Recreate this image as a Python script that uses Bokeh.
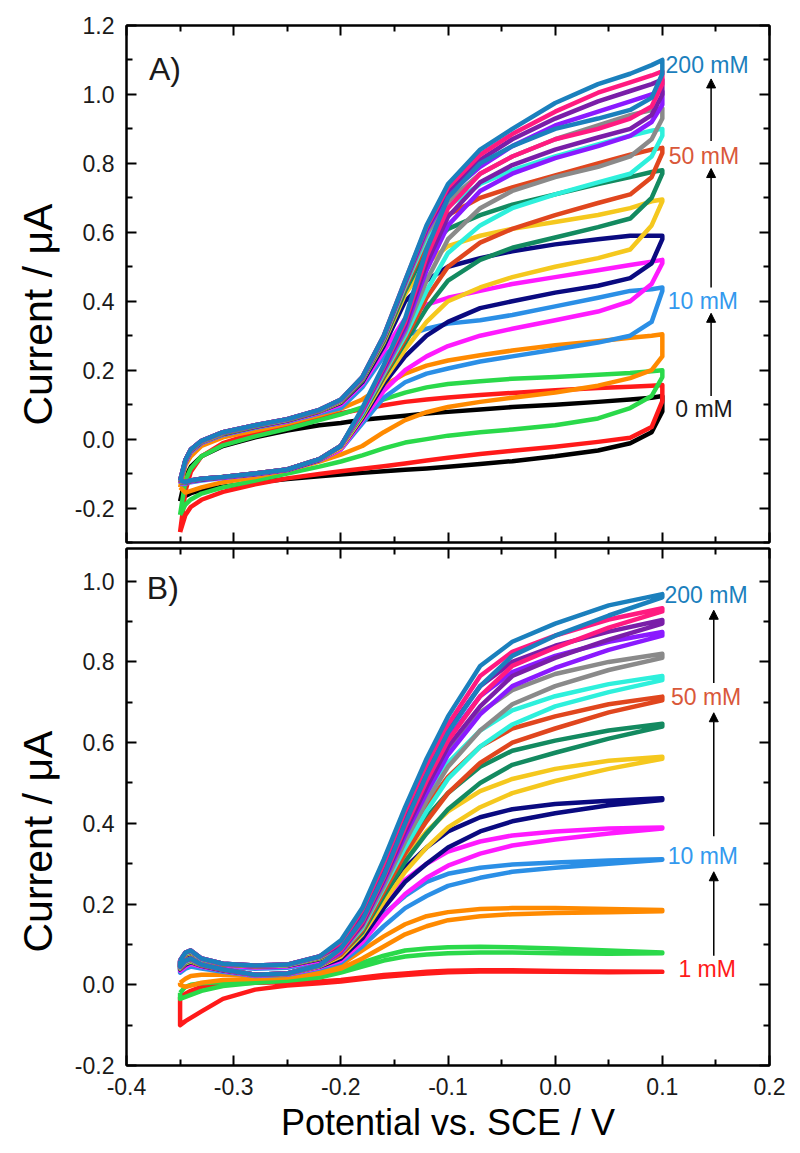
from bokeh.plotting import figure
from bokeh.models import (LinearAxis, FixedTicker, PrintfTickFormatter, Range1d, Label, Arrow,
                          NormalHead, CustomLabelingPolicy, Title)
from bokeh.layouts import column
from bokeh.embed import file_html
from bokeh.resources import INLINE

FONT = "Liberation Sans"

# ---------------- data ----------------
x_major = [-0.4, -0.3, -0.2, -0.1, 0.0, 0.1, 0.2]
x_minor = [-0.35, -0.25, -0.15, -0.05, 0.05, 0.15]
yA_major = [-0.2, 0.0, 0.2, 0.4, 0.6, 0.8, 1.0, 1.2]
yA_minor = [-0.3, -0.1, 0.1, 0.3, 0.5, 0.7, 0.9, 1.1]
yB_major = [-0.2, 0.0, 0.2, 0.4, 0.6, 0.8, 1.0]
yB_minor = [-0.1, 0.1, 0.3, 0.5, 0.7, 0.9]

# potential grid (V vs SCE), panel A
EA = [-0.35, -0.345, -0.34, -0.33, -0.31, -0.28, -0.25, -0.22, -0.20, -0.18, -0.16,
      -0.14, -0.12, -0.10, -0.07, -0.04, 0.0, 0.04, 0.07, 0.09, 0.10]

A_blk_up = [-0.18, -0.11, -0.08, -0.05, -0.02, 0.005, 0.025, 0.04, 0.047, 0.056, 0.062, 0.068, 0.074, 0.079, 0.086, 0.093, 0.10, 0.108, 0.115, 0.12, 0.125]
A_blk_dn = [-0.18, -0.165, -0.157, -0.148, -0.138, -0.126, -0.116, -0.108, -0.103, -0.098, -0.093, -0.089, -0.085, -0.08, -0.072, -0.064, -0.05, -0.033, -0.012, 0.02, 0.08]
A_red_up = [-0.27, -0.15, -0.095, -0.05, -0.012, 0.018, 0.04, 0.062, 0.075, 0.087, 0.098, 0.108, 0.115, 0.121, 0.128, 0.134, 0.142, 0.148, 0.152, 0.155, 0.157]
A_red_dn = [-0.27, -0.22, -0.197, -0.176, -0.153, -0.131, -0.114, -0.101, -0.093, -0.086, -0.079, -0.071, -0.062, -0.054, -0.043, -0.034, -0.022, -0.008, 0.004, 0.035, 0.11]
A_grn_up = [-0.22, -0.12, -0.085, -0.05, -0.018, 0.008, 0.03, 0.055, 0.072, 0.092, 0.115, 0.135, 0.15, 0.16, 0.168, 0.175, 0.18, 0.187, 0.192, 0.197, 0.20]
A_grn_dn = [-0.22, -0.19, -0.175, -0.158, -0.14, -0.12, -0.1, -0.08, -0.065, -0.047, -0.027, -0.01, 0.0, 0.01, 0.02, 0.028, 0.04, 0.06, 0.09, 0.125, 0.18]
A_org_up = [-0.14, -0.075, -0.05, -0.02, 0.005, 0.025, 0.045, 0.07, 0.088, 0.115, 0.155, 0.19, 0.213, 0.228, 0.243, 0.257, 0.272, 0.284, 0.294, 0.30, 0.304]
A_org_dn = [-0.14, -0.155, -0.15, -0.14, -0.125, -0.11, -0.09, -0.065, -0.045, -0.02, 0.02, 0.055, 0.078, 0.093, 0.108, 0.12, 0.135, 0.155, 0.177, 0.20, 0.24]
A_ltb_up = [-0.13, -0.068, -0.038, -0.012, 0.012, 0.033, 0.05, 0.075, 0.09, 0.15, 0.24, 0.30, 0.32, 0.335, 0.345, 0.36, 0.385, 0.41, 0.43, 0.435, 0.44]
A_ltb_dn = [-0.13, -0.13, -0.125, -0.12, -0.113, -0.103, -0.09, -0.062, -0.03, 0.045, 0.12, 0.165, 0.19, 0.205, 0.225, 0.24, 0.26, 0.28, 0.30, 0.34, 0.43]
A_mag_up = [-0.128, -0.066, -0.036, -0.01, 0.014, 0.035, 0.052, 0.078, 0.10, 0.16, 0.255, 0.35, 0.39, 0.41, 0.43, 0.45, 0.47, 0.49, 0.505, 0.515, 0.52]
A_mag_dn = [-0.128, -0.128, -0.123, -0.118, -0.112, -0.102, -0.09, -0.061, -0.03, 0.055, 0.14, 0.20, 0.24, 0.27, 0.30, 0.32, 0.345, 0.37, 0.40, 0.45, 0.51]
A_nav_up = [-0.126, -0.064, -0.034, -0.009, 0.015, 0.036, 0.054, 0.08, 0.105, 0.165, 0.27, 0.40, 0.46, 0.50, 0.525, 0.545, 0.565, 0.58, 0.59, 0.59, 0.59]
A_nav_dn = [-0.126, -0.127, -0.122, -0.117, -0.111, -0.101, -0.089, -0.06, -0.025, 0.06, 0.16, 0.24, 0.30, 0.34, 0.38, 0.40, 0.425, 0.445, 0.467, 0.51, 0.58]
A_yel_up = [-0.125, -0.063, -0.033, -0.008, 0.016, 0.037, 0.055, 0.081, 0.108, 0.17, 0.28, 0.42, 0.51, 0.56, 0.59, 0.61, 0.63, 0.65, 0.67, 0.69, 0.695]
A_yel_dn = [-0.125, -0.126, -0.121, -0.116, -0.11, -0.1, -0.088, -0.059, -0.025, 0.065, 0.17, 0.26, 0.34, 0.40, 0.44, 0.47, 0.50, 0.525, 0.55, 0.62, 0.69]
A_gr2_up = [-0.124, -0.062, -0.032, -0.007, 0.017, 0.038, 0.056, 0.082, 0.11, 0.172, 0.285, 0.43, 0.55, 0.61, 0.65, 0.68, 0.71, 0.74, 0.76, 0.775, 0.78]
A_gr2_dn = [-0.124, -0.126, -0.121, -0.116, -0.11, -0.1, -0.088, -0.058, -0.02, 0.07, 0.18, 0.28, 0.38, 0.46, 0.52, 0.555, 0.585, 0.615, 0.64, 0.70, 0.77]
A_ore_up = [-0.123, -0.061, -0.031, -0.006, 0.018, 0.039, 0.057, 0.083, 0.111, 0.174, 0.29, 0.44, 0.57, 0.65, 0.70, 0.73, 0.765, 0.80, 0.825, 0.84, 0.845]
A_ore_dn = [-0.123, -0.125, -0.12, -0.115, -0.11, -0.1, -0.088, -0.058, -0.02, 0.075, 0.185, 0.29, 0.41, 0.50, 0.57, 0.61, 0.65, 0.685, 0.71, 0.76, 0.83]
A_cyn_up = [-0.122, -0.061, -0.031, -0.006, 0.019, 0.039, 0.057, 0.084, 0.112, 0.176, 0.293, 0.445, 0.585, 0.675, 0.74, 0.78, 0.82, 0.855, 0.88, 0.895, 0.90]
A_cyn_dn = [-0.122, -0.125, -0.12, -0.115, -0.11, -0.1, -0.088, -0.058, -0.02, 0.075, 0.19, 0.30, 0.43, 0.54, 0.62, 0.67, 0.71, 0.745, 0.77, 0.82, 0.88]
A_gry_up = [-0.121, -0.06, -0.03, -0.005, 0.02, 0.04, 0.058, 0.084, 0.113, 0.177, 0.295, 0.45, 0.595, 0.69, 0.77, 0.82, 0.87, 0.91, 0.94, 0.955, 0.96]
A_gry_dn = [-0.121, -0.125, -0.12, -0.115, -0.11, -0.1, -0.088, -0.058, -0.02, 0.08, 0.195, 0.31, 0.46, 0.58, 0.67, 0.72, 0.76, 0.79, 0.82, 0.87, 0.93]
A_vio_up = [-0.12, -0.06, -0.03, -0.005, 0.02, 0.04, 0.058, 0.085, 0.114, 0.178, 0.297, 0.455, 0.605, 0.71, 0.79, 0.85, 0.91, 0.95, 0.98, 1.0, 1.009]
A_vio_dn = [-0.12, -0.125, -0.12, -0.115, -0.11, -0.1, -0.088, -0.058, -0.02, 0.08, 0.20, 0.32, 0.49, 0.62, 0.72, 0.77, 0.815, 0.85, 0.88, 0.92, 0.97]
A_pur_up = [-0.12, -0.06, -0.03, -0.005, 0.02, 0.04, 0.058, 0.085, 0.114, 0.179, 0.298, 0.455, 0.61, 0.72, 0.81, 0.87, 0.93, 0.98, 1.01, 1.03, 1.043]
A_pur_dn = [-0.12, -0.125, -0.12, -0.115, -0.11, -0.1, -0.088, -0.058, -0.02, 0.085, 0.205, 0.33, 0.51, 0.645, 0.745, 0.795, 0.84, 0.875, 0.90, 0.94, 1.00]
A_pnk_up = [-0.12, -0.06, -0.03, -0.005, 0.02, 0.04, 0.058, 0.085, 0.115, 0.18, 0.30, 0.46, 0.615, 0.73, 0.825, 0.885, 0.95, 1.005, 1.035, 1.055, 1.067]
A_pnk_dn = [-0.12, -0.125, -0.12, -0.115, -0.11, -0.1, -0.088, -0.058, -0.02, 0.085, 0.21, 0.34, 0.53, 0.67, 0.77, 0.82, 0.87, 0.90, 0.93, 0.965, 1.03]
A_blu_up = [-0.12, -0.06, -0.03, -0.005, 0.02, 0.04, 0.058, 0.085, 0.115, 0.18, 0.30, 0.46, 0.62, 0.74, 0.84, 0.90, 0.975, 1.03, 1.06, 1.085, 1.10]
A_blu_dn = [-0.12, -0.125, -0.12, -0.115, -0.11, -0.1, -0.088, -0.058, -0.02, 0.09, 0.215, 0.35, 0.55, 0.70, 0.80, 0.85, 0.90, 0.93, 0.955, 0.99, 1.06]

# potential grid, panel B
EB = [-0.35, -0.345, -0.34, -0.33, -0.31, -0.28, -0.25, -0.22, -0.20, -0.18,
      -0.16, -0.14, -0.12, -0.10, -0.07, -0.04, 0.0, 0.05, 0.10]

B_red_up = [-0.03, -0.022, -0.015, -0.005, 0.002, 0.005, 0.006, 0.008, 0.012, 0.018, 0.024, 0.028, 0.032, 0.035, 0.036, 0.036, 0.034, 0.033, 0.032]
B_red_dn = [-0.10, -0.09, -0.082, -0.066, -0.035, -0.012, -0.002, 0.004, 0.008, 0.014, 0.02, 0.024, 0.028, 0.031, 0.033, 0.033, 0.032, 0.031, 0.032]
B_grn_up = [-0.02, -0.005, 0.0, 0.004, 0.007, 0.008, 0.012, 0.022, 0.035, 0.055, 0.072, 0.085, 0.09, 0.093, 0.094, 0.093, 0.09, 0.085, 0.08]
B_grn_dn = [-0.035, -0.03, -0.025, -0.015, -0.003, 0.005, 0.01, 0.018, 0.03, 0.045, 0.06, 0.07, 0.075, 0.078, 0.08, 0.08, 0.078, 0.077, 0.078]
B_org_up = [0.005, 0.015, 0.022, 0.025, 0.025, 0.022, 0.024, 0.035, 0.05, 0.085, 0.12, 0.15, 0.17, 0.18, 0.188, 0.19, 0.19, 0.188, 0.185]
B_org_dn = [0.0, -0.005, -0.002, 0.005, 0.012, 0.015, 0.018, 0.028, 0.04, 0.065, 0.095, 0.125, 0.145, 0.16, 0.17, 0.175, 0.178, 0.18, 0.182]
B_ltb_up = [0.045, 0.06, 0.065, 0.05, 0.045, 0.04, 0.042, 0.055, 0.07, 0.115, 0.175, 0.22, 0.255, 0.275, 0.29, 0.298, 0.303, 0.308, 0.311]
B_ltb_dn = [0.03, 0.04, 0.045, 0.04, 0.032, 0.022, 0.025, 0.04, 0.055, 0.095, 0.145, 0.19, 0.22, 0.245, 0.265, 0.28, 0.29, 0.30, 0.31]
B_mag_up = [0.05, 0.068, 0.072, 0.056, 0.048, 0.043, 0.045, 0.06, 0.075, 0.13, 0.20, 0.26, 0.30, 0.33, 0.355, 0.37, 0.38, 0.387, 0.39]
B_mag_dn = [0.035, 0.045, 0.052, 0.045, 0.035, 0.023, 0.026, 0.043, 0.06, 0.105, 0.17, 0.225, 0.265, 0.295, 0.325, 0.345, 0.36, 0.375, 0.387]
B_nav_up = [0.052, 0.072, 0.077, 0.058, 0.05, 0.045, 0.047, 0.063, 0.08, 0.14, 0.22, 0.29, 0.34, 0.38, 0.415, 0.435, 0.448, 0.456, 0.462]
B_nav_dn = [0.038, 0.05, 0.056, 0.047, 0.036, 0.024, 0.027, 0.045, 0.065, 0.115, 0.19, 0.255, 0.30, 0.34, 0.38, 0.405, 0.425, 0.445, 0.458]
B_yel_up = [0.054, 0.074, 0.079, 0.06, 0.05, 0.046, 0.048, 0.065, 0.085, 0.15, 0.235, 0.315, 0.38, 0.43, 0.48, 0.51, 0.535, 0.555, 0.565]
B_yel_dn = [0.04, 0.053, 0.058, 0.048, 0.037, 0.024, 0.027, 0.046, 0.07, 0.125, 0.205, 0.28, 0.34, 0.39, 0.44, 0.475, 0.505, 0.535, 0.56]
B_gr2_up = [0.056, 0.076, 0.081, 0.062, 0.051, 0.047, 0.049, 0.066, 0.09, 0.155, 0.25, 0.34, 0.415, 0.475, 0.54, 0.58, 0.605, 0.63, 0.647]
B_gr2_dn = [0.041, 0.055, 0.06, 0.049, 0.037, 0.025, 0.028, 0.047, 0.075, 0.13, 0.22, 0.305, 0.375, 0.435, 0.50, 0.545, 0.575, 0.61, 0.64]
B_ore_up = [0.057, 0.077, 0.082, 0.063, 0.051, 0.047, 0.049, 0.067, 0.09, 0.16, 0.26, 0.36, 0.445, 0.515, 0.59, 0.635, 0.665, 0.695, 0.714]
B_ore_dn = [0.042, 0.056, 0.061, 0.049, 0.037, 0.025, 0.028, 0.047, 0.075, 0.135, 0.23, 0.325, 0.405, 0.475, 0.55, 0.60, 0.635, 0.675, 0.705]
B_cyn_up = [0.058, 0.078, 0.083, 0.063, 0.052, 0.047, 0.049, 0.068, 0.095, 0.165, 0.27, 0.38, 0.47, 0.55, 0.63, 0.68, 0.715, 0.745, 0.765]
B_cyn_dn = [0.043, 0.057, 0.062, 0.05, 0.038, 0.025, 0.028, 0.047, 0.08, 0.14, 0.24, 0.34, 0.43, 0.51, 0.59, 0.645, 0.69, 0.725, 0.755]
B_gry_up = [0.059, 0.079, 0.084, 0.064, 0.052, 0.048, 0.05, 0.069, 0.095, 0.17, 0.28, 0.395, 0.495, 0.58, 0.675, 0.73, 0.77, 0.80, 0.82]
B_gry_dn = [0.044, 0.058, 0.063, 0.05, 0.038, 0.025, 0.028, 0.048, 0.08, 0.145, 0.245, 0.355, 0.455, 0.54, 0.63, 0.695, 0.74, 0.78, 0.81]
B_vio_up = [0.06, 0.08, 0.085, 0.065, 0.052, 0.048, 0.05, 0.07, 0.10, 0.175, 0.29, 0.41, 0.52, 0.61, 0.715, 0.775, 0.815, 0.85, 0.874]
B_vio_dn = [0.045, 0.06, 0.065, 0.05, 0.038, 0.025, 0.028, 0.048, 0.08, 0.15, 0.255, 0.37, 0.475, 0.57, 0.67, 0.74, 0.785, 0.83, 0.865]
B_pur_up = [0.06, 0.08, 0.085, 0.065, 0.052, 0.048, 0.05, 0.07, 0.10, 0.18, 0.295, 0.42, 0.535, 0.63, 0.74, 0.80, 0.84, 0.875, 0.904]
B_pur_dn = [0.045, 0.06, 0.065, 0.05, 0.038, 0.025, 0.028, 0.048, 0.085, 0.15, 0.26, 0.38, 0.49, 0.59, 0.69, 0.765, 0.81, 0.855, 0.895]
B_pnk_up = [0.06, 0.08, 0.085, 0.065, 0.052, 0.048, 0.05, 0.07, 0.105, 0.185, 0.30, 0.43, 0.545, 0.645, 0.765, 0.825, 0.865, 0.905, 0.933]
B_pnk_dn = [0.045, 0.06, 0.065, 0.05, 0.038, 0.025, 0.028, 0.048, 0.085, 0.155, 0.265, 0.39, 0.505, 0.605, 0.715, 0.79, 0.835, 0.885, 0.925]
B_blu_up = [0.06, 0.08, 0.085, 0.065, 0.052, 0.048, 0.05, 0.07, 0.11, 0.19, 0.31, 0.44, 0.56, 0.665, 0.79, 0.85, 0.895, 0.94, 0.968]
B_blu_dn = [0.045, 0.06, 0.065, 0.05, 0.038, 0.025, 0.028, 0.048, 0.09, 0.16, 0.27, 0.40, 0.52, 0.625, 0.74, 0.815, 0.865, 0.915, 0.96]

C_BLK = "#000000"; C_RED = "#ff1a1a"; C_GRN = "#2ad94a"; C_ORG = "#ff8a00"
C_LTB = "#2b8fe6"; C_MAG = "#ff1aff"; C_NAV = "#0a0a80"; C_YEL = "#f5c81e"
C_GR2 = "#138a60"; C_ORE = "#e0461e"; C_CYN = "#2ef0dc"; C_GRY = "#8a8a8a"
C_VIO = "#8a1aff"; C_PUR = "#7a1ea8"; C_PNK = "#ff1a80"; C_BLU = "#1b80bd"

curves_A = [(C_BLK, A_blk_up, A_blk_dn), (C_RED, A_red_up, A_red_dn), (C_GRN, A_grn_up, A_grn_dn),
            (C_ORG, A_org_up, A_org_dn), (C_LTB, A_ltb_up, A_ltb_dn), (C_MAG, A_mag_up, A_mag_dn),
            (C_NAV, A_nav_up, A_nav_dn), (C_YEL, A_yel_up, A_yel_dn), (C_GR2, A_gr2_up, A_gr2_dn),
            (C_ORE, A_ore_up, A_ore_dn), (C_CYN, A_cyn_up, A_cyn_dn), (C_GRY, A_gry_up, A_gry_dn),
            (C_VIO, A_vio_up, A_vio_dn), (C_PUR, A_pur_up, A_pur_dn), (C_PNK, A_pnk_up, A_pnk_dn),
            (C_BLU, A_blu_up, A_blu_dn)]
curves_B = [(C_RED, B_red_up, B_red_dn), (C_GRN, B_grn_up, B_grn_dn), (C_ORG, B_org_up, B_org_dn),
            (C_LTB, B_ltb_up, B_ltb_dn), (C_MAG, B_mag_up, B_mag_dn), (C_NAV, B_nav_up, B_nav_dn),
            (C_YEL, B_yel_up, B_yel_dn), (C_GR2, B_gr2_up, B_gr2_dn), (C_ORE, B_ore_up, B_ore_dn),
            (C_CYN, B_cyn_up, B_cyn_dn), (C_GRY, B_gry_up, B_gry_dn), (C_VIO, B_vio_up, B_vio_dn),
            (C_PUR, B_pur_up, B_pur_dn), (C_PNK, B_pnk_up, B_pnk_dn), (C_BLU, B_blu_up, B_blu_dn)]

labels_A = ["200 mM", "50 mM", "10 mM", "0 mM"]
labels_B = ["200 mM", "50 mM", "10 mM", "1 mM"]
x_title = "Potential vs. SCE / V"
y_title = "Current / \u03bcA"


# ---------------- helpers ----------------
def style_axis(ax, major, minor, show_labels):
    ax.ticker = FixedTicker(ticks=major, minor_ticks=minor)
    ax.formatter = PrintfTickFormatter(format="%.1f")
    ax.axis_line_width = 2
    ax.axis_line_color = "black"
    ax.major_tick_in = 10
    ax.major_tick_out = 0
    ax.minor_tick_in = 6
    ax.minor_tick_out = 0
    ax.major_tick_line_width = 2
    ax.minor_tick_line_width = 2
    ax.major_tick_line_color = "black"
    ax.minor_tick_line_color = "black"
    ax.major_label_text_font = FONT
    ax.axis_label_text_font = FONT
    ax.axis_label_text_font_style = "normal"
    ax.axis_label_text_color = "black"
    if show_labels:
        ax.major_label_text_font_size = "23px"
        ax.major_label_text_color = "#1a1a1a"
        ax.major_label_standoff = 12
    else:
        # mirrored axis: ticks only, no labels drawn
        ax.major_label_standoff = 0
        ax.major_label_text_font_size = "0px"
        ax.major_label_policy = CustomLabelingPolicy(
            code="const a = Array.from(indices); for (const i of a) indices.unset(i); return indices;")
        ax.axis_label = None


def make_fig(height, ymin, ymax, ymajor, yminor, top_b, bot_b, show_x, ytitle_offset):
    p = figure(width=800, height=height, x_range=Range1d(-0.4, 0.2), y_range=Range1d(ymin, ymax),
               output_backend="svg", toolbar_location=None,
               min_border_left=126, min_border_right=31, min_border_top=top_b, min_border_bottom=bot_b)
    p.xgrid.visible = False
    p.ygrid.visible = False
    p.outline_line_color = "black"
    p.outline_line_width = 2
    p.background_fill_color = "white"
    p.border_fill_color = "white"
    style_axis(p.xaxis[0], x_major, x_minor, show_x)
    if show_x:
        p.xaxis[0].axis_label = x_title
        p.xaxis[0].axis_label_text_font_size = "36px"
        p.xaxis[0].axis_label_standoff = 4
    style_axis(p.yaxis[0], ymajor, yminor, True)
    # y title as a side title, anchored from the bottom of the frame (the original sits low)
    p.add_layout(Title(text=y_title, align="left", offset=ytitle_offset, text_font=FONT,
                       text_font_size="41px", text_font_style="normal", text_color="black",
                       standoff=22), "left")
    top = LinearAxis()
    style_axis(top, x_major, x_minor, False)
    p.add_layout(top, "above")
    right = LinearAxis()
    style_axis(right, ymajor, yminor, False)
    p.add_layout(right, "right")
    return p


def draw(p, E, curves):
    for color, up, dn in curves:
        xs = list(E) + list(E)[::-1] + [E[0]]
        ys = list(up) + list(dn)[::-1] + [up[0]]
        p.line(xs, ys, line_color=color, line_width=4.5, line_join="round")


def add_label(p, x, y, text, color, size="23px"):
    p.add_layout(Label(x=x, y=y, text=text, text_color=color, text_font=FONT, text_font_size=size,
                       text_baseline="middle", text_align="left"))


def add_arrow(p, x, y0, y1):
    p.add_layout(Arrow(end=NormalHead(size=9, fill_color="black", line_color="black"),
                       x_start=x, y_start=y0, x_end=x, y_end=y1, line_width=1.5, line_color="black"))


# ---------------- panel A ----------------
pA = make_fig(545, -0.3, 1.2, yA_major, yA_minor, 25, 3, False, 117)
draw(pA, EA, curves_A)
add_label(pA, 0.103, 1.085, labels_A[0], "#1b80bd")
add_label(pA, 0.106, 0.82, labels_A[1], "#d9583a")
add_label(pA, 0.105, 0.40, labels_A[2], "#3399ee")
add_label(pA, 0.112, 0.087, labels_A[3], "#1a1a1a")
add_arrow(pA, 0.1455, 0.125, 0.365)
add_arrow(pA, 0.1455, 0.44, 0.785)
add_arrow(pA, 0.1455, 0.865, 1.045)
add_label(pA, -0.379, 1.075, "A)", "#1a1a1a", "32px")

# ---------------- panel B ----------------
pB = make_fig(605, -0.2, 1.081, yB_major, yB_minor, 3, 85, True, 113)
draw(pB, EB, curves_B)
add_label(pB, 0.102, 0.965, labels_B[0], "#1b80bd")
add_label(pB, 0.108, 0.714, labels_B[1], "#d9583a")
add_label(pB, 0.105, 0.32, labels_B[2], "#3399ee")
add_label(pB, 0.115, 0.04, labels_B[3], "#ff1a1a")
add_arrow(pB, 0.148, 0.072, 0.28)
add_arrow(pB, 0.148, 0.368, 0.674)
add_arrow(pB, 0.148, 0.748, 0.928)
add_label(pB, -0.381, 0.983, "B)", "#1a1a1a", "32px")

layout = column(pA, pB)
open("out.html", "w").write(file_html(layout, INLINE))
